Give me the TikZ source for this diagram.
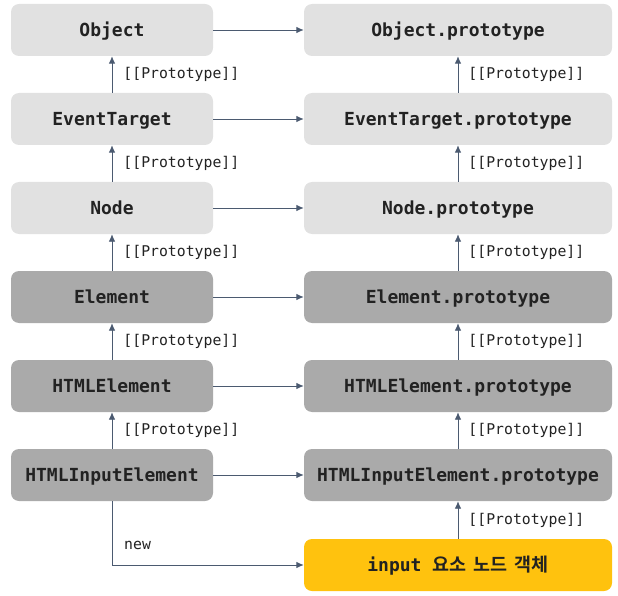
\documentclass[tikz,border=0pt]{standalone}
\usepackage{fontspec}
\setmonofont{DejaVu Sans Mono}
\newfontfamily\krfont{Noto Sans CJK KR}[BoldFont={Noto Sans CJK KR Bold}]
\usetikzlibrary{arrows.meta}
\definecolor{boxlight}{HTML}{E1E1E1}
\definecolor{boxdark}{HTML}{AAAAAA}
\definecolor{boxyellow}{HTML}{FFC20E}
\definecolor{linkcol}{HTML}{4B5A70}
\definecolor{txt}{HTML}{222222}
\begin{document}
\begin{tikzpicture}[x=1pt,y=-1pt,
  box/.style={rounded corners=8pt,minimum height=52pt,inner sep=0pt,text=txt,
    text height=14.5pt,text depth=1.5pt,
    font=\ttfamily\bfseries\fontsize{18}{20}\selectfont},
  lbox/.style={box,minimum width=202pt},
  rbox/.style={box,minimum width=308pt},
  light/.style={fill=boxlight},
  dark/.style={fill=boxdark},
  link/.style={draw=linkcol,line width=0.9pt,-{Latex[length=7.5pt,width=6.5pt]}},
  tag/.style={anchor=west,inner sep=0pt,text=txt,font=\ttfamily\fontsize{14.8}{16}\selectfont}]
\useasboundingbox (0,0) rectangle (618,596);
% class column
\node[lbox,light] (obj)  at (112,30)  {Object};
\node[lbox,light] (evt)  at (112,119) {EventTarget};
\node[lbox,light] (node) at (112,208) {Node};
\node[lbox,dark]  (el)   at (112,297) {Element};
\node[lbox,dark]  (hel)  at (112,386) {HTMLElement};
\node[lbox,dark]  (hin)  at (112,475) {HTMLInputElement};
% prototype column
\node[rbox,light] (objp)  at (458,30)  {Object.prototype};
\node[rbox,light] (evtp)  at (458,119) {EventTarget.prototype};
\node[rbox,light] (nodep) at (458,208) {Node.prototype};
\node[rbox,dark]  (elp)   at (458,297) {Element.prototype};
\node[rbox,dark]  (help)  at (458,386) {HTMLElement.prototype};
\node[rbox,dark]  (hinp)  at (458,475) {HTMLInputElement.prototype};
\node[rbox,fill=boxyellow] (inp) at (458,565)
  {input\hspace{11pt}{\krfont\bfseries\fontsize{18.5}{22}\selectfont 요소\hspace{7pt}노드\hspace{7pt}객체}};
% constructor -> prototype
\foreach \a/\b in {obj/objp,evt/evtp,node/nodep,el/elp,hel/help,hin/hinp}
  \draw[link] (\a.east) -- (\b.west);
% [[Prototype]] chains
\foreach \a/\b in {evt/obj,node/evt,el/node,hel/el,hin/hel}
  \draw[link] (\a.north) -- node[tag,xshift=11pt]{[[Prototype]]} (\b.south);
\foreach \a/\b in {evtp/objp,nodep/evtp,elp/nodep,help/elp,hinp/help,inp/hinp}
  \draw[link] (\a.north) -- node[tag,xshift=10pt]{[[Prototype]]} (\b.south);
% instantiation
\coordinate (bend) at (hin.south |- inp.west);
\draw[link] (hin.south) -- (bend) -- (inp.west);
\node[tag] (newlbl) at (124,545) {new};
\end{tikzpicture}
\end{document}
